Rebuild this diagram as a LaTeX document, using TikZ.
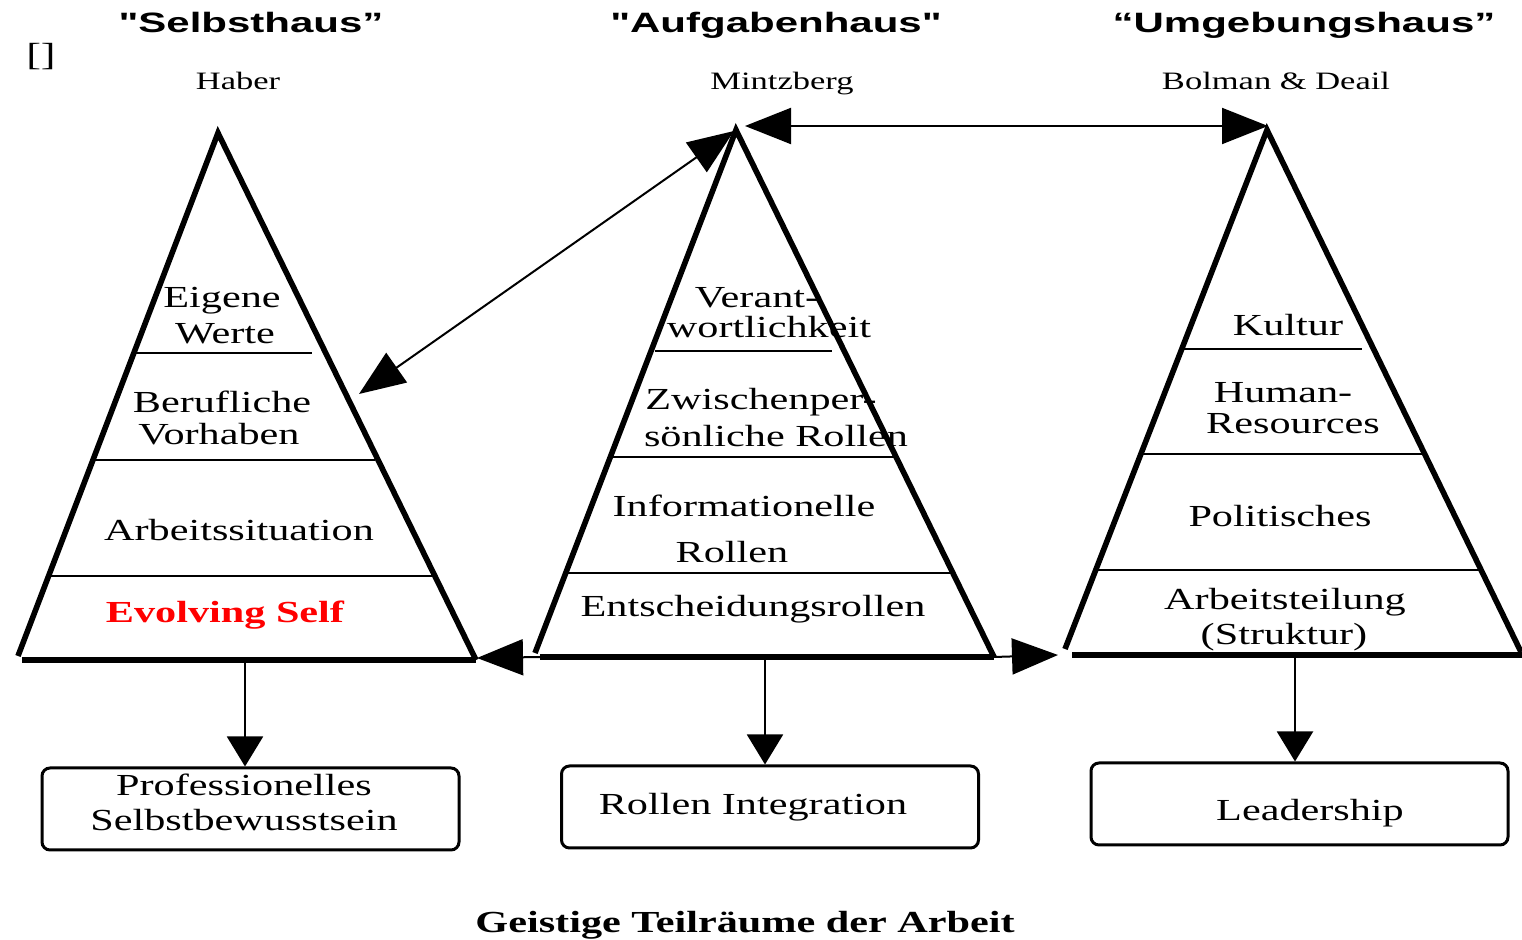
\documentclass[tikz,border=0pt]{standalone}
\usepackage{fontspec}
\usetikzlibrary{arrows.meta}
\newfontfamily\serifw[FakeStretch=1.38]{Liberation Serif}
\newfontfamily\sansw[FakeStretch=1.5]{Liberation Sans}
\definecolor{selfred}{RGB}{255,0,0}
\tikzset{
  bighead/.tip={Triangle[length=23pt,width=18pt]},
  downhead/.tip={Triangle[length=15pt,width=18pt]},
}
\begin{document}
\begin{tikzpicture}[x=0.5pt,y=-0.5pt,
  title/.style={font=\sansw\fontsize{14}{16}\selectfont\bfseries, anchor=base, inner sep=0pt},
  author/.style={font=\serifw\fontsize{12.5}{14}\selectfont, anchor=base, inner sep=0pt},
  layer/.style={font=\serifw\fontsize{15.3}{17}\selectfont, anchor=base, inner sep=0pt},
  leg/.style={line width=2.8pt, line join=miter},
  band/.style={line width=1pt},
  link/.style={line width=1pt, bighead-bighead},
  push/.style={line width=1pt, -bighead},
  down/.style={line width=1pt, -downhead},
  outcome/.style={draw, line width=1.5pt, rounded corners=4pt,
    minimum width=208.5pt, minimum height=41pt, inner sep=0pt},
]
\useasboundingbox (0,0) rectangle (1522,940);

% headings
\node[title] (t1) at (251,33) {"Selbsthaus”};
\node[title] (t2) at (776,33) {"Aufgabenhaus"};
\node[title] (t3) at (1304,33) {“Umgebungshaus”};
\node[font=\serifw\fontsize{16}{18}\selectfont, inner sep=0pt] (br) at (41,57) {[]};
\node[author] (a1) at (238,90) {Haber};
\node[author] (a2) at (782,90) {Mintzberg};
\node[author] (a3) at (1276,90) {Bolman \& Deail};

% triangle corners
\coordinate (LA) at (218,133);
\coordinate (LBL) at (18,656);
\coordinate (LB0) at (22,660);
\coordinate (LBR) at (476,660);
\coordinate (MA) at (736,130);
\coordinate (MBL) at (535,653);
\coordinate (MB0) at (540,657);
\coordinate (MBR) at (994,657);
\coordinate (RA) at (1267,130);
\coordinate (RBL) at (1065,649);
\coordinate (RB0) at (1072,655);
\coordinate (RBR) at (1521,652);
\coordinate (RB1) at (1522,655);

% Selbsthaus
\draw[leg] (LBL) -- (LA) -- (LBR);
\draw[leg] (LB0) -- (LBR);
\draw[band] (135,353) -- (312,353);
\draw[band] (92,460) -- (375,460);
\draw[band] (48,576) -- (432,576);
\node[layer] (l1a) at (222,308) {Eigene};
\node[layer] (l1b) at (225,344) {Werte};
\node[layer] (l2a) at (222,413) {Berufliche};
\node[layer] (l2b) at (219,445) {Vorhaben};
\node[layer] (l3) at (239,541) {Arbeitssituation};
\node[layer, text=selfred, font=\serifw\fontsize{15.3}{17}\selectfont\bfseries] (l4) at (225,623) {Evolving Self};

% Aufgabenhaus
\draw[leg] (MBL) -- (MA) -- (MBR);
\draw[leg] (MB0) -- (MBR);
\draw[band] (655,351) -- (832,351);
\draw[band] (612,457) -- (895,457);
\draw[band] (568,573) -- (950,573);
\node[layer] (m1a) at (757,308) {Verant-};
\node[layer] (m1b) at (769,338) {wortlichkeit};
\node[layer] (m2a) at (761,410) {Zwischenper-};
\node[layer] (m2b) at (776,447) {sönliche Rollen};
\node[layer] (m3a) at (744,517) {Informationelle};
\node[layer] (m3b) at (732,563) {Rollen};
\node[layer] (m4) at (753,617) {Entscheidungsrollen};

% Umgebungshaus
\draw[leg] (RBL) -- (RA) -- (RBR);
\draw[leg] (RB0) -- (RB1);
\draw[band] (1183,349) -- (1362,349);
\draw[band] (1143,454) -- (1424,454);
\draw[band] (1098,570) -- (1480,570);
\node[layer] (r1) at (1288,336) {Kultur};
\node[layer] (r2a) at (1283,403) {Human-};
\node[layer] (r2b) at (1293,434) {Resources};
\node[layer] (r3) at (1280,527) {Politisches};
\node[layer] (r4a) at (1285,610) {Arbeitsteilung};
\node[layer] (r4b) at (1284,645) {(Struktur)};

% outcomes
\node[outcome] (o1) at (250.5,809) {};
\node[outcome] (o2) at (770,807) {};
\node[outcome] (o3) at (1299.5,804) {};
\node[layer] (o1a) at (244,796) {Professionelles};
\node[layer] (o1b) at (244,831) {Selbstbewusstsein};
\node[layer] (o2t) at (753,815) {Rollen Integration};
\node[layer] (o3t) at (1310,820) {Leadership};

% links between the houses
\coordinate (dL) at (359,394);
\coordinate (dM) at (734,131);
\coordinate (hM) at (745,126);
\coordinate (hR) at (1268,126);
\coordinate (bL) at (477,658);
\coordinate (bR) at (1058,655);
\draw[link] (dL) -- (dM);
\draw[link] (hM) -- (hR);
\draw[push] (MB0) -- (bL);
\draw[push] (MBR) -- (bR);

% results of each house
\coordinate (s1) at (245,662);
\coordinate (s2) at (765,659);
\coordinate (s3) at (1295,657);
\draw[down] (s1) -- (s1 |- o1.north);
\draw[down] (s2) -- (s2 |- o2.north);
\draw[down] (s3) -- (s3 |- o3.north);

\node[layer, font=\serifw\fontsize{15.3}{17}\selectfont\bfseries] (cap) at (745,933) {Geistige Teilräume der Arbeit};
\end{tikzpicture}
\end{document}
